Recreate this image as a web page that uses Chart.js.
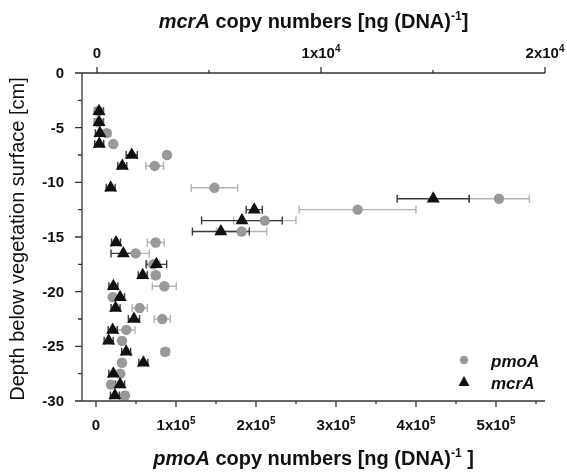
<!DOCTYPE html>
<html lang="en">
<head>
<meta charset="UTF-8">
<title>pmoA and mcrA depth profile</title>
<script src="https://cdn.jsdelivr.net/npm/chart.js"></script>
<style>
  html, body { margin: 0; padding: 0; background: #fff; }
  canvas { display: block; }
</style>
</head>
<body>
<canvas id="profile" width="567" height="473"></canvas>
<script>
// depth of each sample [cm]
const depths = [-3.5, -4.5, -5.5, -6.5, -7.5, -8.5, -10.5, -11.5, -12.5, -13.5, -14.5,
  -15.5, -16.5, -17.5, -18.5, -19.5, -20.5, -21.5, -22.5, -23.5, -24.5, -25.5,
  -26.5, -27.5, -28.5, -29.5];

// pmoA copy numbers (bottom axis) and their errors
const pmoA = [3000, 3000, 13400, 21600, 88750, 73400, 148000, 503750, 327000, 211000, 182000,
  74600, 49600, 71600, 74600, 85400, 20900, 54600, 82900, 37900, 32500, 86600,
  32500, 30400, 18750, 36250];
const pmoAErr = [2000, 2000, 5000, 3000, 4000, 11000, 29000, 38000, 73000, 39000, 31500,
  10600, 17000, 8000, 5000, 15000, 3000, 9600, 10000, 10800, 4000, 5000,
  4000, 3000, 3000, 4000];

// mcrA copy numbers (top axis) and their errors
const mcrA = [90, 90, 130, 100, 1550, 1130, 610, 15010, 7020, 6470, 5530,
  850, 1175, 2650, 2040, 730, 1030, 830, 1650, 700, 520, 1300,
  2070, 730, 1030, 800];
const mcrAErr = [200, 200, 200, 200, 250, 200, 200, 1610, 360, 1800, 1270,
  200, 550, 460, 200, 200, 200, 200, 250, 200, 200, 200,
  200, 200, 200, 200];

// ticks
const pmoATicks = [0, 100000, 200000, 300000, 400000, 500000];
const pmoATickLabels = [['0', ''], ['1x10', '5'], ['2x10', '5'], ['3x10', '5'], ['4x10', '5'], ['5x10', '5']];
const pmoAMinor = [50000, 150000, 250000, 350000, 450000, 550000];
const mcrATicks = [0, 10000, 20000];
const mcrATickLabels = [['0', ''], ['1x10', '4'], ['2x10', '4']];
const mcrAMinor = [5000, 15000];
const depthTicks = [0, -5, -10, -15, -20, -25, -30];
const depthMinor = [-2.5, -7.5, -12.5, -17.5, -22.5, -27.5];

const FONT = '"Liberation Sans", Arial, Helvetica, sans-serif';

function drawRich(ctx, parts, cx, baseline) {
  let total = 0;
  parts.forEach(p => { ctx.font = p.font; p.w = ctx.measureText(p.text).width; total += p.w; });
  let x = cx - total / 2;
  ctx.textAlign = 'left';
  ctx.textBaseline = 'alphabetic';
  parts.forEach(p => {
    ctx.font = p.font;
    ctx.fillText(p.text, x, baseline - (p.rise || 0));
    x += p.w;
  });
}

function tickLabel(ctx, lab, cx, baseline) {
  const parts = [{ text: lab[0], font: 'bold 15px ' + FONT }];
  if (lab[1]) parts.push({ text: lab[1], font: 'bold 10px ' + FONT, rise: 6 });
  drawRich(ctx, parts, cx, baseline);
}

const errorBars = {
  id: 'errorBars',
  beforeDatasetsDraw(chart) {
    const ctx = chart.ctx;
    const ys = chart.scales.y;
    const sets = [
      { scale: chart.scales.x, vals: pmoA, errs: pmoAErr, color: '#b3b3b3' },
      { scale: chart.scales.x2, vals: mcrA, errs: mcrAErr, color: '#3a3a3a' }
    ];
    ctx.save();
    ctx.lineWidth = 1.4;
    sets.forEach(s => {
      ctx.strokeStyle = s.color;
      s.vals.forEach((v, i) => {
        const y = ys.getPixelForValue(depths[i]);
        const x1 = s.scale.getPixelForValue(v - s.errs[i]);
        const x2 = s.scale.getPixelForValue(v + s.errs[i]);
        ctx.beginPath();
        ctx.moveTo(x1, y); ctx.lineTo(x2, y);
        ctx.moveTo(x1, y - 4); ctx.lineTo(x1, y + 4);
        ctx.moveTo(x2, y - 4); ctx.lineTo(x2, y + 4);
        ctx.stroke();
      });
    });
    ctx.restore();
  }
};

const axesDecor = {
  id: 'axesDecor',
  afterDraw(chart) {
    const ctx = chart.ctx;
    const { left, right, top, bottom } = chart.chartArea;
    const xs = chart.scales.x, xt = chart.scales.x2, ys = chart.scales.y;
    ctx.save();
    ctx.strokeStyle = '#333';
    ctx.lineWidth = 1.3;
    ctx.beginPath();
    ctx.moveTo(left, top); ctx.lineTo(left, bottom);
    ctx.moveTo(left, top); ctx.lineTo(right, top);
    ctx.moveTo(left, bottom); ctx.lineTo(right, bottom);
    depthTicks.forEach(v => { const y = ys.getPixelForValue(v); ctx.moveTo(left - 7, y); ctx.lineTo(left, y); });
    depthMinor.forEach(v => { const y = ys.getPixelForValue(v); ctx.moveTo(left - 4, y); ctx.lineTo(left, y); });
    pmoATicks.forEach(v => { const x = xs.getPixelForValue(v); ctx.moveTo(x, bottom); ctx.lineTo(x, bottom + 6); });
    pmoAMinor.forEach(v => { const x = xs.getPixelForValue(v); ctx.moveTo(x, bottom); ctx.lineTo(x, bottom + 3); });
    mcrATicks.forEach(v => { const x = xt.getPixelForValue(v); ctx.moveTo(x, top); ctx.lineTo(x, top - 6); });
    mcrAMinor.forEach(v => { const x = xt.getPixelForValue(v); ctx.moveTo(x, top); ctx.lineTo(x, top - 3); });
    ctx.stroke();

    ctx.fillStyle = '#111';
    // y tick labels
    ctx.font = 'bold 15px ' + FONT;
    ctx.textAlign = 'right';
    ctx.textBaseline = 'middle';
    depthTicks.forEach(v => ctx.fillText(String(v), 64, ys.getPixelForValue(v) + 1));
    // x tick labels
    pmoATicks.forEach((v, i) => tickLabel(ctx, pmoATickLabels[i], xs.getPixelForValue(v), 430));
    mcrATicks.forEach((v, i) => tickLabel(ctx, mcrATickLabels[i], xt.getPixelForValue(v), 58));

    // axis titles
    const cx = (left + right) / 2;
    drawRich(ctx, [
      { text: 'mcrA', font: 'italic bold 20px ' + FONT },
      { text: ' copy numbers [ng (DNA)', font: 'bold 20px ' + FONT },
      { text: '-1', font: 'bold 12px ' + FONT, rise: 8 },
      { text: ']', font: 'bold 20px ' + FONT }
    ], cx, 28);
    drawRich(ctx, [
      { text: 'pmoA', font: 'italic bold 20px ' + FONT },
      { text: ' copy numbers [ng (DNA)', font: 'bold 20px ' + FONT },
      { text: '-1', font: 'bold 12px ' + FONT, rise: 8 },
      { text: ' ]', font: 'bold 20px ' + FONT }
    ], cx, 465);

    ctx.save();
    ctx.translate(24, (top + bottom) / 2 + 2);
    ctx.rotate(-Math.PI / 2);
    ctx.font = '20px ' + FONT;
    ctx.textAlign = 'center';
    ctx.textBaseline = 'alphabetic';
    ctx.fillText('Depth below vegetation surface [cm]', 0, 0);
    ctx.restore();

    // legend
    ctx.fillStyle = '#999';
    ctx.beginPath();
    ctx.arc(464, 360, 4.2, 0, Math.PI * 2);
    ctx.fill();
    ctx.fillStyle = '#111';
    ctx.beginPath();
    ctx.moveTo(464, 376); ctx.lineTo(469.5, 386); ctx.lineTo(458.5, 386);
    ctx.closePath();
    ctx.fill();
    ctx.font = 'italic bold 17px ' + FONT;
    ctx.textAlign = 'left';
    ctx.textBaseline = 'middle';
    ctx.fillText('pmoA', 491, 362);
    ctx.fillText('mcrA', 491, 384);
    ctx.restore();
  }
};

new Chart(document.getElementById('profile'), {
  type: 'scatter',
  data: {
    datasets: [
      {
        label: 'pmoA',
        data: depths.map((d, i) => ({ x: pmoA[i], y: d })),
        xAxisID: 'x',
        pointStyle: 'circle',
        pointRadius: 5.2,
        backgroundColor: '#999999',
        borderWidth: 0,
        order: 2,
        clip: false
      },
      {
        label: 'mcrA',
        data: depths.map((d, i) => ({ x: mcrA[i], y: d })),
        xAxisID: 'x2',
        pointStyle: 'triangle',
        pointRadius: 7.5,
        backgroundColor: '#111111',
        borderColor: '#111111',
        borderWidth: 0,
        order: 1,
        clip: false
      }
    ]
  },
  options: {
    responsive: false,
    animation: false,
    layout: { padding: { left: 82, right: 22, top: 73, bottom: 72 } },
    plugins: { legend: { display: false }, tooltip: { enabled: false } },
    scales: {
      x: { type: 'linear', position: 'bottom', min: -17500, max: 561250, display: false },
      x2: { type: 'linear', position: 'top', min: -670, max: 20000, display: false },
      y: { type: 'linear', min: -30, max: 0, display: false }
    }
  },
  plugins: [errorBars, axesDecor]
});
</script>
</body>
</html>
